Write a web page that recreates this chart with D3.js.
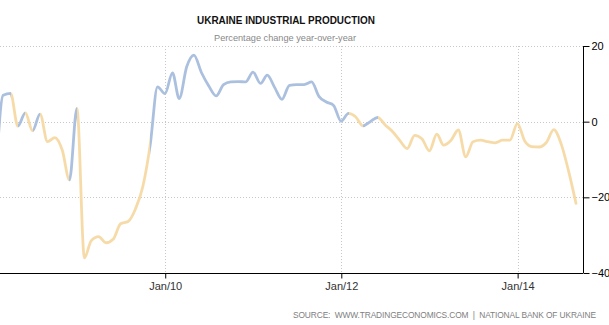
<!DOCTYPE html>
<html>
<head>
<meta charset="utf-8">
<script src="https://cdn.jsdelivr.net/npm/d3@7"></script>
<style>
  html, body { margin: 0; padding: 0; background: #fff; }
  svg { display: block; }
</style>
</head>
<body>
<svg id="chart" width="609" height="325"></svg>
<script>
// Ukraine industrial production, % change year-over-year (monthly)
const startYear = 2008;
const values2008 = [-13, 7.0, 7.5, -1.2, 2.3, -2.4, 2.0, -5.3, -4.2, -7.5, -15.4, 3.5];
const values2009 = [-36, -31.5, -30.4, -32.0, -31.0, -27, -26.4, -23, -17.2, -6.0, 9.2, 7.4];
const values2010 = [12.9, 6.1, 14.5, 17.6, 13.0, 9.5, 6.8, 9.8, 10.5, 10.6, 10.5, 13.1];
const values2011 = [10.1, 12.3, 9.0, 5.9, 9.6, 9.8, 9.8, 10.5, 6.7, 5.2, 4.3, 0.1];
const values2012 = [2.2, 1.3, -1.1, 0.0, 1.1, -0.8, -2.6, -5.0, -7.1, -3.6, -4.5, -7.7];
const values2013 = [-3.3, -6.2, -4.9, -2.2, -9.3, -5.3, -4.9, -5.3, -5.6, -4.9, -4.9, -0.5];
const values2014 = [-5.2, -6.6, -6.7, -5.5, -2.1, -5.8, -13, -21.6];

// stretches of the series drawn in the "rising" colour, as [from, to] months
const blueSpans = [["2008-01", "2008-03"], ["2008-04", "2008-05"], ["2008-06", "2008-07"],
                   ["2008-11", "2008-12"], ["2009-10", "2012-01"], ["2012-03", "2012-05"]];

const yTicks = [20, 0, -20, -40];
const xTickLabels = ["Jan/10", "Jan/12", "Jan/14"];
const xTickDates = ["2010-01-01", "2012-01-01", "2014-01-01"];

const title = "UKRAINE INDUSTRIAL PRODUCTION";
const subtitle = "Percentage change year-over-year";
const source = "SOURCE:  WWW.TRADINGECONOMICS.COM  |  NATIONAL BANK OF UKRAINE";

// ---- build the series: each month is plotted at its last day
const allValues = [].concat(values2008, values2009, values2010, values2011, values2012, values2013, values2014);
const monthEnd = (y, m) => new Date(y, m + 1, 0);
const data = allValues.map((v, i) => ({
  date: monthEnd(startYear + Math.floor(i / 12), i % 12),
  value: v
}));
const parseMonth = s => { const [y, m] = s.split("-").map(Number); return monthEnd(y, m - 1); };

const svg = d3.select("#chart");
const plot = { left: 0, right: 583, top: 46, bottom: 273 };
const font = "'Liberation Sans', Arial, sans-serif";

const x = d3.scaleTime()
  .domain([new Date(2008, 1, 16), new Date(2014, 8, 29)])
  .range([plot.left, plot.right]);
const y = d3.scaleLinear().domain([-40, 20]).range([plot.bottom, plot.top]);

// ---- grid
const grid = svg.append("g").attr("stroke", "#c8c8c8").attr("stroke-width", 1)
  .attr("stroke-dasharray", "1,2");
grid.selectAll("line.h").data(yTicks.filter(t => t !== -40)).join("line")
  .attr("x1", plot.left).attr("x2", plot.right)
  .attr("y1", d => Math.round(y(d)) + 0.5).attr("y2", d => Math.round(y(d)) + 0.5);
grid.selectAll("line.v").data(xTickDates).join("line")
  .attr("x1", d => Math.round(x(new Date(d))) + 0.5).attr("x2", d => Math.round(x(new Date(d))) + 0.5)
  .attr("y1", plot.top).attr("y2", plot.bottom);

// ---- line with colour stretches via a hard-stop gradient
const defs = svg.append("defs");
defs.append("clipPath").attr("id", "plotClip").append("rect")
  .attr("x", plot.left).attr("y", 0).attr("width", plot.right - plot.left).attr("height", 325);

const blue = "#abc0de", orange = "#f6dba9";
const grad = defs.append("linearGradient").attr("id", "lineGrad")
  .attr("gradientUnits", "userSpaceOnUse")
  .attr("x1", plot.left).attr("x2", plot.right).attr("y1", 0).attr("y2", 0);
const W = plot.right - plot.left;
const stops = [];
stops.push([0, orange]);
blueSpans.forEach(([a, b]) => {
  const fa = Math.max(0, (x(parseMonth(a)) - plot.left) / W);
  const fb = Math.min(1, (x(parseMonth(b)) - plot.left) / W);
  stops.push([fa, orange], [fa, blue], [fb, blue], [fb, orange]);
});
stops.push([1, orange]);
grad.selectAll("stop").data(stops).join("stop")
  .attr("offset", d => Math.max(0, d[0])).attr("stop-color", d => d[1]);

const line = d3.line().x(d => x(d.date)).y(d => y(d.value)).curve(d3.curveMonotoneX);
svg.append("path").datum(data)
  .attr("clip-path", "url(#plotClip)")
  .attr("fill", "none")
  .attr("stroke", "url(#lineGrad)")
  .attr("stroke-width", 2.8)
  .attr("stroke-linejoin", "round")
  .attr("stroke-linecap", "round")
  .attr("d", line);

// ---- axes
const yAxis = d3.axisRight(y).tickValues(yTicks).tickSize(6).tickPadding(2);
const gy = svg.append("g").attr("transform", `translate(${plot.right + 0.5},0)`).call(yAxis);
gy.select(".domain").attr("stroke", "#000").attr("d", `M0,${plot.top}V${plot.bottom}`);
gy.selectAll(".tick line").attr("stroke", "#000");
gy.selectAll(".tick text").attr("fill", "#000")
  .style("font-family", font).style("font-size", "11px");

const xAxis = d3.axisBottom(x).tickValues(xTickDates.map(d => new Date(d)))
  .tickFormat((d, i) => xTickLabels[i]).tickSize(5).tickPadding(4);
const gx = svg.append("g").attr("transform", `translate(0,${plot.bottom + 0.5})`).call(xAxis);
gx.select(".domain").attr("stroke", "#000").attr("d", `M${plot.left},0H${plot.right}`);
gx.selectAll(".tick line").attr("stroke", "#000");
gx.selectAll(".tick text").attr("fill", "#333")
  .style("font-family", font).style("font-size", "11px");

// ---- titles
svg.append("text").attr("x", 286).attr("y", 24).attr("text-anchor", "middle")
  .style("font-family", font).style("font-size", "11px")
  .style("font-weight", "bold").attr("fill", "#111")
  .attr("textLength", 178).attr("lengthAdjust", "spacingAndGlyphs").text(title);
svg.append("text").attr("x", 285).attr("y", 41).attr("text-anchor", "middle")
  .style("font-family", font).style("font-size", "9.2px")
  .attr("fill", "#888").text(subtitle);
svg.append("text").attr("x", 596).attr("y", 318).attr("text-anchor", "end")
  .style("font-family", font).style("font-size", "8.4px")
  .attr("fill", "#808080").attr("xml:space", "preserve")
  .attr("textLength", 303).attr("lengthAdjust", "spacing").text(source);
</script>
</body>
</html>
